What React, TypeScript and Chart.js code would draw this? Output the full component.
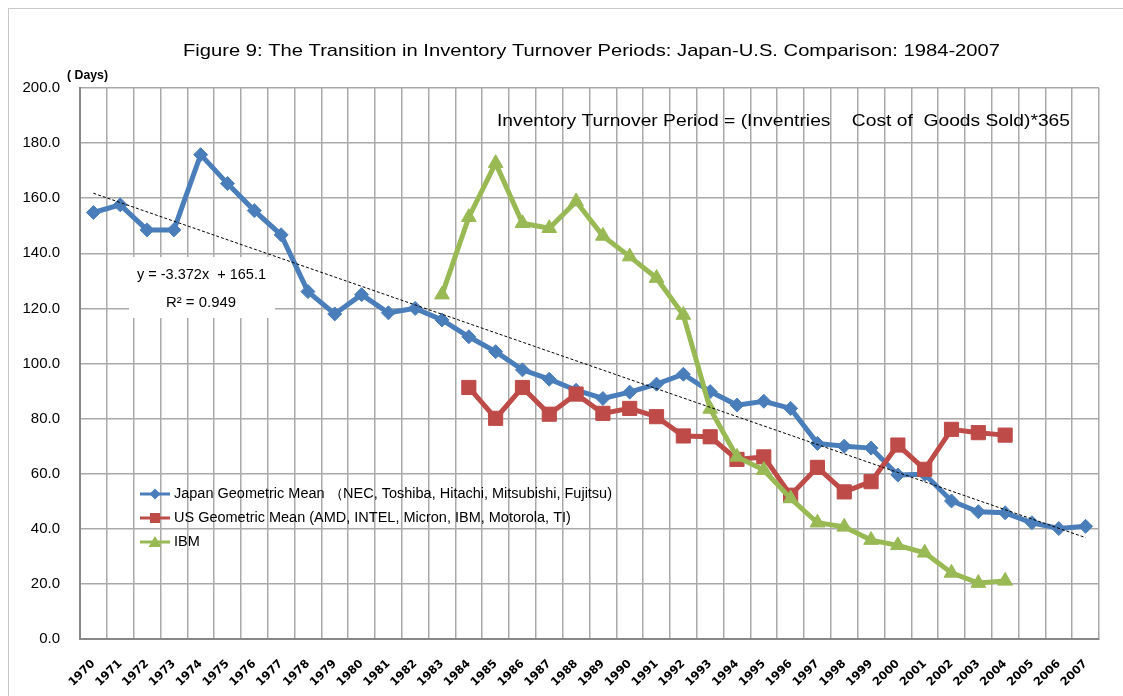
import React, { useEffect, useRef } from "react";
import { Chart, registerables } from "chart.js";

Chart.register(...registerables);

const years = [
  "1970","1971","1972","1973","1974","1975","1976","1977","1978","1979",
  "1980","1981","1982","1983","1984","1985","1986","1987","1988","1989",
  "1990","1991","1992","1993","1994","1995","1996","1997","1998","1999",
  "2000","2001","2002","2003","2004","2005","2006","2007",
];

const japanValues = [
  154.8, 157.6, 148.5, 148.5, 175.8, 165.3, 155.5, 146.7, 126.1, 118.0,
  125.0, 118.4, 120.0, 115.8, 109.7, 104.3, 97.7, 94.3, 90.3, 87.3,
  89.6, 92.5, 96.1, 89.8, 84.9, 86.3, 83.7, 71.0, 70.0, 69.3,
  59.5, 59.8, 50.1, 46.2, 45.8, 42.2, 40.1, 40.9,
];

const usValues = [
  null, null, null, null, null, null, null, null, null, null,
  null, null, null, null, 91.3, 80.1, 91.3, 81.6, 88.9, 81.9,
  83.7, 80.7, 73.7, 73.4, 65.2, 66.1, 52.2, 62.3, 53.4, 57.1,
  70.4, 61.6, 76.1, 74.9, 74.0, null, null, null,
];

const ibmValues = [
  null, null, null, null, null, null, null, null, null, null,
  null, null, null, 125.0, 153.1, 172.7, 150.9, 149.1, 158.8, 146.3,
  138.8, 131.0, 117.6, 83.5, 66.1, 61.3, 51.0, 42.2, 40.7, 35.9,
  34.0, 31.3, 24.0, 20.3, 21.1, null, null, null,
];

// Linear trend of the Japan series (endpoints)
const trendValues = [
  161.8, null, null, null, null, null, null, null, null, null,
  null, null, null, null, null, null, null, null, null, null,
  null, null, null, null, null, null, null, null, null, null,
  null, null, null, null, null, null, null, 36.8,
];

const yTicks = { min: 0, max: 200, step: 20 };

const titleText =
  "Figure 9: The Transition in Inventory Turnover Periods: Japan-U.S. Comparison: 1984-2007";
const formulaText =
  "Inventory Turnover Period = (Inventries    Cost of  Goods Sold)*365";
const unitText = "( Days)";
const equationText = "y = -3.372x  + 165.1";
const r2Text = "R² = 0.949";
const legendLabels = [
  "Japan Geometric Mean （NEC, Toshiba, Hitachi, Mitsubishi, Fujitsu)",
  "US Geometric Mean (AMD, INTEL, Micron, IBM, Motorola, TI)",
  "IBM",
];

const BLUE = "#4A7EBB";
const RED = "#BE4B48";
const GREEN = "#98B954";
const FONT = "'Liberation Sans', Arial, sans-serif";

function drawStretched(
  ctx: CanvasRenderingContext2D,
  text: string,
  x: number,
  y: number,
  font: string,
  width: number,
  align: "left" | "center"
) {
  ctx.save();
  ctx.font = font;
  const w = ctx.measureText(text).width;
  const s = width / w;
  ctx.translate(x, y);
  ctx.scale(s, 1);
  ctx.textBaseline = "middle";
  ctx.textAlign = align;
  ctx.fillText(text, 0, 0);
  ctx.restore();
}

function legendMarker(ctx: CanvasRenderingContext2D, kind: number, x: number, y: number) {
  ctx.beginPath();
  if (kind === 0) {
    const r = 5.5;
    ctx.moveTo(x, y - r);
    ctx.lineTo(x + r, y);
    ctx.lineTo(x, y + r);
    ctx.lineTo(x - r, y);
  } else if (kind === 1) {
    ctx.rect(x - 5, y - 5, 10, 10);
  } else {
    ctx.moveTo(x, y - 6);
    ctx.lineTo(x + 6.5, y + 5);
    ctx.lineTo(x - 6.5, y + 5);
  }
  ctx.closePath();
  ctx.fill();
}

const overlayPlugin = {
  id: "overlay",
  beforeDatasetsDraw(chart: any) {
    const ctx = chart.ctx as CanvasRenderingContext2D;
    ctx.save();
    ctx.fillStyle = "#ffffff";
    ctx.fillRect(129, 257, 146, 61);
    ctx.fillStyle = "#000000";
    drawStretched(ctx, equationText, 201.5, 275, `15px ${FONT}`, 129, "center");
    drawStretched(ctx, r2Text, 201, 303, `15px ${FONT}`, 70, "center");
    ctx.restore();
  },
  afterDraw(chart: any) {
    const ctx = chart.ctx as CanvasRenderingContext2D;
    ctx.save();
    // outer frame
    ctx.strokeStyle = "#c8c8c8";
    ctx.lineWidth = 1;
    ctx.strokeRect(8.5, 8.5, 1300, 1300);
    ctx.fillStyle = "#000000";
    drawStretched(ctx, titleText, 591.5, 51, `17px ${FONT}`, 817, "center");
    drawStretched(ctx, formulaText, 497, 121, `17px ${FONT}`, 573, "left");
    drawStretched(ctx, unitText, 67, 76, `bold 12px ${FONT}`, 41, "left");

    // legend
    ctx.font = `14px ${FONT}`;
    const s = 438 / ctx.measureText(legendLabels[0]).width;
    const rows = [494, 518, 542];
    const colors = [BLUE, RED, GREEN];
    rows.forEach((ry, i) => {
      ctx.strokeStyle = colors[i];
      ctx.lineWidth = 3;
      ctx.beginPath();
      ctx.moveTo(140, ry);
      ctx.lineTo(170, ry);
      ctx.stroke();
      ctx.fillStyle = colors[i];
      legendMarker(ctx, i, 155, ry);
      ctx.save();
      ctx.fillStyle = "#000000";
      ctx.font = `14px ${FONT}`;
      ctx.translate(174, ry);
      ctx.scale(s, 1);
      ctx.textAlign = "left";
      ctx.textBaseline = "middle";
      ctx.fillText(legendLabels[i], 0, 0);
      ctx.restore();
    });
    ctx.restore();
  },
};

export default function App() {
  const ref = useRef<HTMLCanvasElement>(null);

  useEffect(() => {
    if (!ref.current) return;
    const chart = new Chart(ref.current, {
      type: "line",
      data: {
        labels: years,
        datasets: [
          {
            label: "Japan",
            data: japanValues,
            borderColor: BLUE,
            backgroundColor: BLUE,
            borderWidth: 5,
            pointStyle: "rectRot",
            pointRadius: 7,
            pointBorderWidth: 1,
            order: 3,
          },
          {
            label: "US",
            data: usValues,
            borderColor: RED,
            backgroundColor: RED,
            borderWidth: 5,
            pointStyle: "rect",
            pointRadius: 10,
            pointBorderWidth: 1,
            order: 2,
          },
          {
            label: "IBM",
            data: ibmValues,
            borderColor: GREEN,
            backgroundColor: GREEN,
            borderWidth: 5,
            pointStyle: "triangle",
            pointRadius: 8.5,
            pointBorderWidth: 1,
            order: 1,
          },
          {
            label: "Trend",
            data: trendValues,
            borderColor: "#000000",
            borderWidth: 1,
            borderDash: [3, 2],
            pointRadius: 0,
            spanGaps: true,
            order: 0,
          },
        ],
      },
      options: {
        animation: false,
        responsive: false,
        events: [],
        layout: { padding: { left: 0, top: 88, right: 24, bottom: 0 } },
        plugins: { legend: { display: false }, tooltip: { enabled: false }, title: { display: false } },
        scales: {
          x: {
            type: "category",
            offset: true,
            grid: { offset: true, color: "#a9a9a9", lineWidth: 1.5, drawTicks: false },
            border: { color: "#888888", width: 2 },
            ticks: {
              autoSkip: false,
              minRotation: 45,
              maxRotation: 45,
              padding: 18,
              color: "#000000",
              font: { family: "'DejaVu Sans', Verdana, sans-serif", size: 11.5, weight: "bold" },
            },
            afterFit: (scale: any) => {
              scale.height = 57;
            },
          },
          y: {
            min: yTicks.min,
            max: yTicks.max,
            grid: { color: "#a9a9a9", lineWidth: 1.5, drawTicks: false },
            border: { color: "#888888", width: 2 },
            ticks: {
              stepSize: yTicks.step,
              padding: 20,
              color: "#000000",
              font: { family: FONT, size: 15 },
              callback: (v: any) => Number(v).toFixed(1),
            },
            afterFit: (scale: any) => {
              scale.width = 80;
            },
          },
        },
      },
      plugins: [overlayPlugin],
    });
    return () => chart.destroy();
  }, []);

  return (
    <div style={{ position: "fixed", left: 0, top: 0, width: 1123, height: 696, background: "#ffffff" }}>
      <canvas ref={ref} width={1123} height={696} style={{ display: "block" }} />
    </div>
  );
}
